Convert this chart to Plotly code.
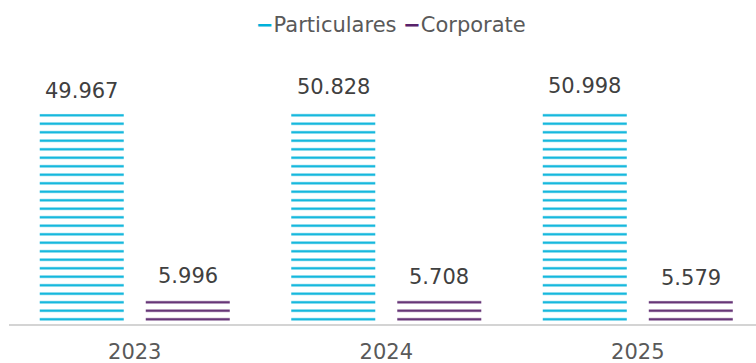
import plotly.graph_objects as go

years = ["2023", "2024", "2025"]
particulares = [49967, 50828, 50998]
corporate = [5996, 5708, 5579]

series_names = ["Particulares", "Corporate"]
colors = ["#00B1DA", "#58226A"]

FONT = "DejaVu Sans"

fig = go.Figure()
for name, vals, col in zip(series_names, [particulares, corporate], colors):
    fig.add_trace(go.Bar(
        name=name,
        x=years,
        y=vals,
        marker=dict(
            color="white",
            line=dict(width=0),
            pattern=dict(shape="-", fgcolor=col, bgcolor="white",
                         size=8.5, solidity=0.26, fillmode="replace"),
        ),
        showlegend=False,
        hoverinfo="skip",
    ))

# value labels above each bar (x given as category index)
def fmt(v):
    return f"{v:,}".replace(",", ".")

for vals, shift in [(particulares, -53), (corporate, 53)]:
    for i, v in enumerate(vals):
        fig.add_annotation(
            x=i, y=v, xref="x", yref="y",
            text=fmt(v), showarrow=False,
            xshift=shift, yshift=23, yanchor="middle",
            font=dict(family=FONT, size=21, color="#404040"),
        )

# legend row across the top
plot_w = 756 - 9 - 0
plot_h = 363 - 60 - 39
legend_text = (
    f"<span style='color:{colors[0]}'><b>−</b></span>Particulares "
    f"<span style='color:{colors[1]}'><b>−</b></span>Corporate"
)
fig.add_annotation(
    x=(391 - 9) / plot_w, y=(363 - 39 - 25) / plot_h,
    xref="paper", yref="paper", text=legend_text,
    showarrow=False, xanchor="center", yanchor="middle",
    font=dict(family=FONT, size=21, color="#595959"),
)

fig.update_layout(
    width=756, height=363,
    margin=dict(l=9, r=0, t=60, b=39, autoexpand=False),
    plot_bgcolor="white", paper_bgcolor="white",
    barmode="group", bargap=0.157, bargroupgap=0.2075,
    showlegend=False,
    xaxis=dict(
        type="category", range=[-0.5, 2.47],
        automargin=False,
        showline=True, linecolor="#D4D4D4", linewidth=2,
        showgrid=False, zeroline=False, ticks="",
        ticklabelstandoff=8,
        tickfont=dict(family=FONT, size=21, color="#595959"),
    ),
    yaxis=dict(
        range=[0, 62750], visible=False, automargin=False,
        showgrid=False, zeroline=False,
    ),
)

fig.write_html("out.html")
